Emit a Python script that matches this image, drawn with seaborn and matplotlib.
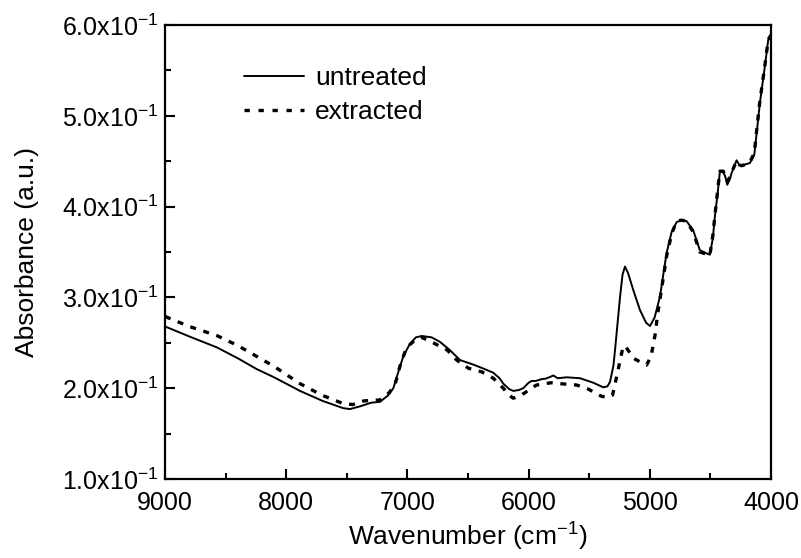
import numpy as np
import pandas as pd
import matplotlib
matplotlib.use("Agg")
import matplotlib.pyplot as plt
from matplotlib.ticker import MultipleLocator, FuncFormatter
import seaborn as sns

# NIR absorbance spectra: wavenumber (cm^-1) and absorbance
wn_untreated = [9000, 8800, 8573, 8400, 8243, 8100, 7886, 7700, 7529, 7474, 7391, 7300,
                7226, 7160, 7116, 7070, 7034, 6979, 6930, 6882, 6800, 6731, 6650, 6566,
                6456, 6380, 6291, 6240, 6209, 6160, 6126, 6080, 6044, 6000, 5975, 5940,
                5892, 5860, 5830, 5796, 5760, 5686, 5576, 5466, 5384, 5350, 5328, 5300,
                5287, 5260, 5246, 5225, 5205, 5180, 5136, 5081, 5030, 4998, 4960, 4916,
                4862, 4820, 4778, 4740, 4697, 4642, 4587, 4540, 4505, 4480, 4463, 4440,
                4422, 4394, 4375, 4361, 4340, 4325, 4284, 4262, 4242, 4200, 4174, 4138,
                4115, 4092, 4050, 4023, 4000]
abs_untreated = [0.268, 0.257, 0.245, 0.233, 0.221, 0.212, 0.197, 0.186, 0.178, 0.177, 0.180, 0.184,
                 0.185, 0.192, 0.200, 0.220, 0.235, 0.249, 0.256, 0.2575, 0.256, 0.251, 0.242, 0.231,
                 0.226, 0.222, 0.217, 0.211, 0.205, 0.199, 0.197, 0.198, 0.200, 0.206, 0.208, 0.208,
                 0.210, 0.2105, 0.212, 0.214, 0.211, 0.212, 0.211, 0.206, 0.201, 0.202, 0.207, 0.225,
                 0.242, 0.280, 0.300, 0.325, 0.334, 0.327, 0.308, 0.286, 0.272, 0.2685, 0.278, 0.301,
                 0.3485, 0.372, 0.383, 0.385, 0.384, 0.374, 0.352, 0.349, 0.347, 0.365, 0.389, 0.415,
                 0.4385, 0.4385, 0.432, 0.424, 0.430, 0.437, 0.451, 0.446, 0.445, 0.447, 0.448, 0.457,
                 0.485, 0.514, 0.555, 0.5835, 0.587]

wn_extracted = [9000, 8800, 8573, 8400, 8243, 8100, 7886, 7700, 7529, 7450, 7360, 7226,
                7150, 7100, 7060, 7020, 6979, 6930, 6882, 6787, 6671, 6593, 6497, 6387,
                6291, 6209, 6160, 6126, 6080, 6030, 5980, 5933, 5870, 5810, 5741, 5603,
                5507, 5440, 5397, 5340, 5307, 5273, 5246, 5225, 5205, 5170, 5136, 5080,
                5026, 4990, 4977, 4952, 4938, 4916, 4862, 4820, 4778, 4740, 4697, 4642,
                4587, 4540, 4505, 4480, 4463, 4440, 4422, 4394, 4375, 4361, 4340, 4325,
                4284, 4262, 4242, 4200, 4174, 4138, 4115, 4092, 4050, 4023, 4000]
abs_extracted = [0.279, 0.268, 0.258, 0.247, 0.235, 0.224, 0.205, 0.192, 0.183, 0.182, 0.186, 0.187,
                 0.195, 0.205, 0.225, 0.240, 0.248, 0.254, 0.256, 0.250, 0.242, 0.231, 0.222, 0.218,
                 0.211, 0.200, 0.192, 0.189, 0.191, 0.195, 0.200, 0.2035, 0.205, 0.206, 0.205, 0.2035,
                 0.199, 0.194, 0.191, 0.190, 0.1925, 0.213, 0.230, 0.243, 0.247, 0.240, 0.233, 0.229,
                 0.2256, 0.235, 0.244, 0.262, 0.2795, 0.298, 0.345, 0.370, 0.384, 0.385, 0.384, 0.372,
                 0.350, 0.348, 0.346, 0.368, 0.390, 0.418, 0.439, 0.439, 0.434, 0.428, 0.432, 0.438,
                 0.450, 0.446, 0.445, 0.447, 0.449, 0.459, 0.488, 0.516, 0.556, 0.584, 0.589]

series_names = ["untreated", "extracted"]

df = pd.concat([
    pd.DataFrame({"wavenumber": wn_untreated, "absorbance": abs_untreated, "sample": series_names[0]}),
    pd.DataFrame({"wavenumber": wn_extracted, "absorbance": abs_extracted, "sample": series_names[1]}),
], ignore_index=True)

sns.set_style("ticks")
plt.rcParams["font.family"] = ["Liberation Sans", "DejaVu Sans"]
plt.rcParams["mathtext.fontset"] = "custom"
plt.rcParams["mathtext.rm"] = "Liberation Sans"
plt.rcParams["mathtext.it"] = "Liberation Sans:italic"
plt.rcParams["mathtext.bf"] = "Liberation Sans:bold"
for key in ["text.color", "axes.labelcolor", "xtick.color", "ytick.color", "axes.edgecolor"]:
    plt.rcParams[key] = "black"

fig, ax = plt.subplots(figsize=(8.01, 5.58), dpi=100)
fig.subplots_adjust(left=165 / 801, right=771 / 801, bottom=1 - 479 / 558, top=1 - 25 / 558)

line_widths = [1.4, 2.4]
sns.lineplot(data=df, x="wavenumber", y="absorbance", style="sample", sort=False,
             dashes={"untreated": "", "extracted": (1.8, 2.3)}, color="black",
             ax=ax, estimator=None)
for line, lw in zip(ax.lines, line_widths):
    line.set_linewidth(lw)

ax.set_xlim(9000, 4000)
ax.set_ylim(0.1, 0.6)
ax.xaxis.set_major_locator(MultipleLocator(1000))
ax.xaxis.set_minor_locator(MultipleLocator(500))
ax.yaxis.set_major_locator(MultipleLocator(0.1))
ax.yaxis.set_minor_locator(MultipleLocator(0.05))
ax.yaxis.set_major_formatter(FuncFormatter(
    lambda v, p: r"%.1fx10$^{\mathregular{-1}}$" % (v * 10)))

ax.tick_params(which="both", direction="in", top=False, right=False, width=1.5,
               labelsize=18, colors="black")
ax.tick_params(which="major", length=7)
ax.tick_params(which="minor", length=4)
ax.tick_params(axis="x", which="major", pad=9)
ax.tick_params(axis="y", which="major", pad=5)
for sp in ax.spines.values():
    sp.set_linewidth(1.6)
    sp.set_color("black")
    sp.set_visible(True)

ax.set_xlabel(r"Wavenumber (cm$^{\mathregular{-1}}$)", fontsize=19, labelpad=4)
ax.set_ylabel("Absorbance (a.u.)", fontsize=19, labelpad=16)

leg = ax.legend(frameon=False, loc="upper left", bbox_to_anchor=(0.13, 0.91),
                fontsize=19, handlelength=2.3, handletextpad=0.4, labelspacing=0.4,
                borderpad=0, borderaxespad=0)
leg.get_lines()[1].set_dashes((1.6, 2.6))
for h, lw in zip(leg.get_lines(), line_widths):
    h.set_linewidth(lw)

fig.savefig("out.png", dpi=100)
